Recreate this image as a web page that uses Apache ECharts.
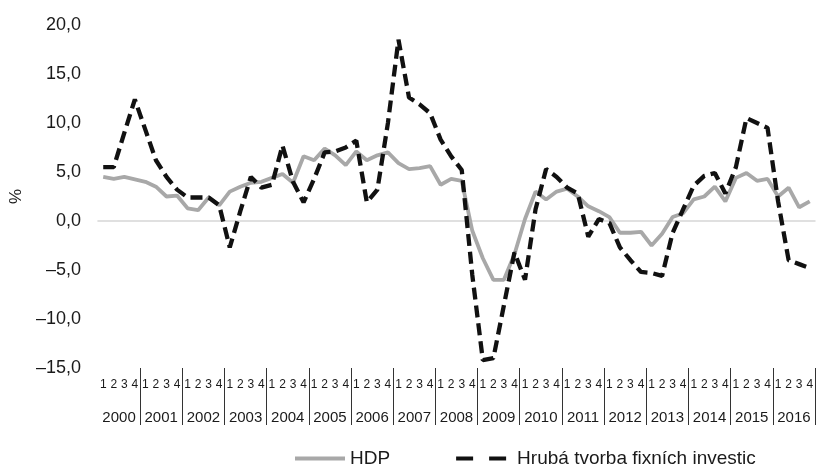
<!DOCTYPE html>
<html>
<head>
<meta charset="utf-8">
<script src="https://cdn.jsdelivr.net/npm/echarts@6/dist/echarts.min.js"></script>
<style>
html,body{margin:0;padding:0;background:#fff;}
#chart{width:816px;height:464px;}
</style>
</head>
<body>
<div id="chart"></div>
<script>
const years = ['2000','2001','2002','2003','2004','2005','2006','2007','2008','2009','2010','2011','2012','2013','2014','2015','2016'];
const quarterLabels = ['1','2','3','4'];
const yTicks = [-15, -10, -5, 0, 5, 10, 15, 20];

const seriesNames = ['HDP', 'Hrubá tvorba fixních investic'];

const hdp = [
  4.5, 4.3, 4.5, 4.25,
  4.0, 3.5, 2.5, 2.6,
  1.3, 1.1, 2.4, 1.6,
  3.0, 3.5, 3.9, 4.0,
  4.4, 4.8, 3.9, 6.6,
  6.2, 7.4, 6.7, 5.7,
  7.1, 6.2, 6.7, 7.0,
  5.9, 5.3, 5.4, 5.6,
  3.7, 4.3, 4.1, -1.0,
  -3.8, -6.0, -6.0, -3.4,
  0.2, 3.0, 2.2, 3.0,
  3.3, 2.5, 1.5, 1.0,
  0.4, -1.2, -1.2, -1.1,
  -2.5, -1.3, 0.4, 0.8,
  2.2, 2.5, 3.5, 2.0,
  4.4, 4.9, 4.1, 4.3,
  2.5, 3.4, 1.4, 2.0
];

const investice = [
  5.5, 5.5, 9.0, 12.4,
  9.3, 6.2, 4.5, 3.2,
  2.4, 2.4, 2.4, 1.6,
  -2.7, 1.0, 4.5, 3.4,
  3.7, 7.7, 4.0, 1.9,
  4.3, 7.0, 7.1, 7.5,
  8.2, 1.9, 3.2, 10.0,
  18.5, 12.6, 11.9, 11.0,
  8.3, 6.6, 5.2, -5.5,
  -14.2, -14.0, -8.6, -3.2,
  -6.0, 1.2, 5.3, 4.5,
  3.4, 2.8, -1.6, 0.2,
  -0.2, -2.7, -4.0, -5.2,
  -5.3, -5.6, -1.2, 1.2,
  3.6, 4.6, 4.9, 2.8,
  5.5, 10.5, 10.0, 9.5,
  2.0, -4.0, -4.4, -4.8
];

const categories = [];
years.forEach(y => quarterLabels.forEach(q => categories.push(y + '-' + q)));

const FONT = '"Liberation Sans", Arial, Helvetica, sans-serif';
const chart = echarts.init(document.getElementById('chart'), null, {renderer: 'canvas'});

const fmt = v => {
  const s = Math.abs(v).toFixed(1).replace('.', ',');
  return v < 0 ? '\u2013' + s : s;
};

chart.setOption({
  animation: false,
  backgroundColor: '#ffffff',
  grid: {left: 92, top: 25, width: 725, height: 343, containLabel: false},
  legend: {
    left: 290,
    top: 444,
    itemWidth: 50,
    itemHeight: 14,
    itemGap: 66,
    textStyle: {fontFamily: FONT, fontSize: 19, color: '#1a1a1a'},
    data: [
      {name: seriesNames[0], icon: 'path://M0,0 L50,0 L50,4 L0,4 Z', itemStyle: {color: '#a8a8a8'}},
      {name: seriesNames[1], icon: 'path://M0,0 L17,0 L17,4 L0,4 Z M33,0 L50,0 L50,4 L33,4 Z', itemStyle: {color: '#111111'},
       textStyle: {padding: [0, 0, 0, 6]}}
    ]
  },
  xAxis: [
    {
      type: 'category',
      data: categories,
      boundaryGap: true,
      position: 'bottom',
      axisLine: {show: false, onZero: false},
      axisTick: {show: false},
      splitLine: {show: false},
      axisLabel: {
        interval: 0,
        margin: 11,
        fontFamily: FONT,
        fontSize: 12,
        color: '#1a1a1a',
        formatter: v => v.split('-')[1]
      }
    },
    {
      type: 'category',
      data: years,
      boundaryGap: true,
      position: 'bottom',
      axisLine: {show: false, onZero: false},
      axisTick: {
        show: true,
        length: 57,
        interval: (idx) => idx !== 0,
        lineStyle: {color: '#333333', width: 1}
      },
      splitLine: {show: false},
      axisLabel: {
        interval: 0,
        margin: 42,
        fontFamily: FONT,
        fontSize: 15,
        color: '#1a1a1a'
      }
    },
    {
      type: 'category',
      data: categories,
      boundaryGap: true,
      position: 'bottom',
      z: 0,
      axisLine: {show: true, onZero: true, lineStyle: {color: '#d6d6d6', width: 1.5}},
      axisTick: {show: false},
      axisLabel: {show: false},
      splitLine: {show: false}
    }
  ],
  yAxis: {
    type: 'value',
    min: yTicks[0],
    max: yTicks[yTicks.length - 1],
    interval: 5,
    name: '%',
    nameLocation: 'middle',
    nameGap: 68,
    nameTextStyle: {fontFamily: FONT, fontSize: 17, color: '#1a1a1a'},
    axisLine: {show: false},
    axisTick: {show: false},
    splitLine: {show: false},
    axisLabel: {
      margin: 17,
      fontFamily: FONT,
      fontSize: 18,
      color: '#1a1a1a',
      formatter: fmt
    }
  },
  series: [
    {
      name: seriesNames[0],
      type: 'line',
      xAxisIndex: 0,
      data: hdp,
      symbol: 'none',
      lineStyle: {color: '#a8a8a8', width: 3.8},
      itemStyle: {color: '#a8a8a8'},
      z: 2
    },
    {
      name: seriesNames[1],
      type: 'line',
      xAxisIndex: 0,
      data: investice,
      symbol: 'none',
      lineStyle: {color: '#111111', width: 4.3, type: [12, 6]},
      itemStyle: {color: '#111111'},
      z: 3
    }
  ]
});
</script>
</body>
</html>
